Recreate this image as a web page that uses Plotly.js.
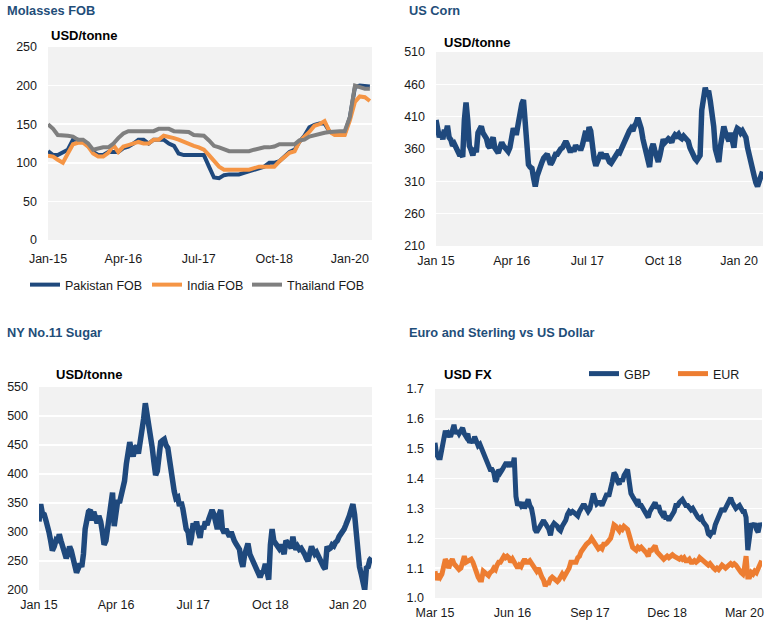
<!DOCTYPE html>
<html><head><meta charset="utf-8">
<script src="https://cdn.plot.ly/plotly-3.0.1.min.js"></script>
<style>html,body{margin:0;padding:0;background:#fff;}#chart{width:782px;height:634px;}</style>
</head><body><div id="chart"></div>
<script>
// ---------- Molasses FOB (monthly, Jan 2015 - May 2020), USD/tonne ----------
const molassesPakistan = [115,110,110,113,117,130,130,127,122,114,110,110,
  114,114,114,119,121,125,130,130,125,130,130,130,
  125,122,112,110,110,110,110,110,95,81,80,84,
  85,85,85,87,89,91,93,95,100,100,102,108,
  114,117,127,135,146,149,151,151,140,138,138,138,
  159,198,200,200,199];
const molassesIndia = [109,108,104,100,112,124,126,126,121,112,108,108,
  113,123,114,121,123,125,127,125,125,130,130,135,
  134,132,130,127,125,122,120,117,110,102,95,91,
  91,91,91,91,91,93,95,95,95,95,102,108,
  113,115,127,134,140,148,150,154,140,136,136,136,
  155,179,186,185,180];
const molassesThailand = [150,144,136,136,135,134,130,130,125,117,119,120,
  120,125,132,138,141,141,141,141,141,141,144,144,
  144,141,141,141,140,136,136,135,129,122,120,117,
  115,115,115,115,115,117,119,120,120,121,124,124,
  124,124,129,130,134,136,137,139,140,141,141,141,
  159,200,198,196,196];

// ---------- US Corn, USD/tonne (3 readings per month: 1st, 11th, 21st; Jan 2015 - May 2020) ----------
const cornValues = [
  405,388,378, 386,375,390, 383,396,378, 374,365,368, 362,356,352, 352,348,405, 432,405,365, 358,350,362, 355,385,393, 395,385,380, 376,365,362, 372,378,362,
  358,354,362, 370,365,362, 360,356,362, 375,392,385, 385,400,420, 430,436,400, 348,336,332, 330,315,302, 318,328,334, 340,346,350, 352,344,336, 340,346,352,
  352,358,360, 362,368,372, 368,360,355, 362,356,366, 360,364,358, 366,378,388, 372,394,388, 358,344,334, 342,350,354, 350,346,352, 345,340,338, 342,348,352,
  355,354,360, 366,375,380, 385,388,392, 388,396,400, 408,400,392, 375,365,352, 345,332,360, 368,358,345, 340,350,370, 375,370,372, 376,374,370, 378,382,380,
  383,378,376, 380,376,374, 372,362,355, 350,345,342, 345,350,420, 440,455,445, 450,435,418, 395,360,345, 340,365,390, 395,385,378, 372,385,370, 362,385,392,
  390,385,388, 384,378,362, 350,338,330, 318,308,302, 310,320,325];

// ---------- NY No.11 Sugar, USD/tonne (3 readings per month; Jan 2015 - May 2020) ----------
const sugarValues = [
  318,348,332, 330,320,312, 300,285,268, 275,285,282, 296,285,275, 268,255,262, 275,268,250, 242,230,235, 245,240,262, 305,325,335, 338,320,335, 325,315,328,
  318,300,278, 285,310,330, 340,368,310, 345,355,350, 365,380,388, 418,435,455, 440,430,445, 448,435,455, 462,495,522, 505,490,470, 445,420,398, 405,445,455,
  458,460,450, 445,425,400, 385,370,358, 360,345,352, 340,318,305, 300,278,290, 315,305,318, 300,290,310, 305,318,312, 322,332,338, 330,310,305, 330,338,305,
  298,305,300, 292,300,288, 285,280,275, 270,250,240, 260,272,280, 262,255,250, 245,235,228, 222,230,232, 245,230,218, 278,305,285, 280,275,272, 278,265,262,
  285,282,278, 272,292,275, 270,275,270, 272,268,262, 255,250,262, 275,268,262, 265,258,252, 248,240,236, 275,270,272, 278,276,282, 285,292,296, 298,305,312,
  318,328,338, 348,330,295, 262,240,228, 215,200,238, 240,252,256];

// ---------- Euro and Sterling vs US Dollar (3 readings per month; Mar 2015 - Jun 2020) ----------
const gbpValues = [
  1.52,1.48,1.47, 1.47,1.50,1.53, 1.56,1.54,1.55, 1.54,1.57,1.58, 1.55,1.56,1.55, 1.56,1.57,1.55, 1.54,1.55,1.52, 1.53,1.52,1.54, 1.52,1.51,1.515, 1.50,1.49,1.48,
  1.46,1.44,1.43, 1.43,1.42,1.39, 1.40,1.43,1.42, 1.43,1.44,1.45, 1.45,1.44,1.455, 1.44,1.47,1.34, 1.31,1.32,1.31, 1.32,1.30,1.32, 1.33,1.31,1.30, 1.27,1.23,1.22, 1.23,1.245,1.25, 1.26,1.25,1.24,
  1.23,1.21,1.24, 1.25,1.245,1.24, 1.23,1.225,1.24, 1.25,1.26,1.28, 1.29,1.285,1.29, 1.285,1.28,1.275, 1.29,1.30,1.31, 1.31,1.30,1.29, 1.30,1.335,1.35, 1.33,1.315,1.32, 1.32,1.31,1.325, 1.34,1.35,1.34,
  1.36,1.39,1.42, 1.41,1.39,1.38, 1.40,1.39,1.41, 1.42,1.43,1.39, 1.35,1.34,1.33, 1.32,1.33,1.31, 1.31,1.30,1.29, 1.28,1.27,1.29, 1.30,1.31,1.32, 1.30,1.31,1.29, 1.28,1.29,1.27, 1.27,1.26,1.27,
  1.28,1.29,1.31, 1.31,1.32,1.33, 1.33,1.32,1.31, 1.31,1.30,1.295, 1.30,1.29,1.275, 1.27,1.265,1.27, 1.255,1.245,1.24, 1.215,1.21,1.22, 1.22,1.245,1.26, 1.27,1.29,1.30, 1.29,1.30,1.31, 1.32,1.335,1.32,
  1.31,1.30,1.305, 1.31,1.30,1.29, 1.29,1.27,1.16, 1.23,1.25,1.24, 1.25,1.23,1.22, 1.25,1.24];
const eurValues = [
  1.09,1.06,1.08, 1.07,1.08,1.10, 1.13,1.12,1.10, 1.12,1.13,1.115, 1.11,1.10,1.095, 1.10,1.13,1.14, 1.12,1.125,1.13, 1.13,1.12,1.10, 1.08,1.07,1.06, 1.06,1.09,1.085,
  1.08,1.075,1.085, 1.09,1.10,1.095, 1.11,1.12,1.12, 1.13,1.14,1.135, 1.14,1.135,1.12, 1.13,1.12,1.11, 1.10,1.11,1.105, 1.12,1.13,1.12, 1.12,1.125,1.115, 1.11,1.10,1.09, 1.10,1.08,1.07, 1.06,1.04,1.05,
  1.05,1.065,1.07, 1.065,1.06,1.055, 1.06,1.07,1.08, 1.07,1.085,1.09, 1.10,1.12,1.12, 1.12,1.12,1.135, 1.14,1.155,1.165, 1.175,1.18,1.185, 1.19,1.20,1.19, 1.18,1.175,1.165, 1.17,1.165,1.18, 1.18,1.185,1.19,
  1.20,1.22,1.245, 1.24,1.23,1.225, 1.235,1.23,1.24, 1.235,1.23,1.21, 1.18,1.17,1.165, 1.16,1.17,1.165, 1.17,1.165,1.16, 1.15,1.14,1.16, 1.16,1.17,1.175, 1.155,1.15,1.14, 1.135,1.13,1.135, 1.14,1.135,1.14,
  1.145,1.14,1.135, 1.135,1.13,1.135, 1.13,1.135,1.125, 1.125,1.13,1.12, 1.12,1.125,1.12, 1.125,1.135,1.13, 1.125,1.12,1.115, 1.11,1.115,1.105, 1.10,1.095,1.10, 1.095,1.10,1.11, 1.105,1.10,1.105, 1.11,1.115,1.11,
  1.115,1.11,1.10, 1.095,1.085,1.08, 1.10,1.14,1.07, 1.07,1.085,1.08, 1.09,1.085,1.10, 1.12,1.125];

// ---------- tick labels ----------
const molassesTickDates = ['2015-01-01','2016-04-01','2017-07-01','2018-10-01','2020-01-01'];
const molassesTickText = ['Jan-15','Apr-16','Jul-17','Oct-18','Jan-20'];
const priceTickDates = ['2015-01-01','2016-04-01','2017-07-01','2018-10-01','2020-01-01'];
const priceTickText = ['Jan 15','Apr 16','Jul 17','Oct 18','Jan 20'];
const fxTickDates = ['2015-03-01','2016-06-01','2017-09-01','2018-12-01','2020-03-01'];
const fxTickText = ['Mar 15','Jun 16','Sep 17','Dec 18','Mar 20'];

// ---------- sampling calendars ----------
function monthlyDates(y, m, n) {
  const out = [];
  for (let k = 0; k < n; k++) {
    const mm = m - 1 + k, yy = y + Math.floor(mm / 12), mo = (mm % 12) + 1;
    out.push(yy + '-' + String(mo).padStart(2, '0') + '-01');
  }
  return out;
}
function thirdsDates(y, m, n) {
  const days = ['01', '11', '21'], out = [];
  for (let k = 0; k < n; k++) {
    const mm = m - 1 + Math.floor(k / 3), yy = y + Math.floor(mm / 12), mo = (mm % 12) + 1;
    out.push(yy + '-' + String(mo).padStart(2, '0') + '-' + days[k % 3]);
  }
  return out;
}

const BLUE = '#1F497D', ORANGE_M = '#F59545', GREY = '#7F7F7F', ORANGE_FX = '#ED7D31';
const FONT = 'Liberation Sans, Arial, sans-serif';
const W = 782, H = 634;
const px = v => v / W, py = v => 1 - v / H;

const molDates = monthlyDates(2015, 1, molassesPakistan.length);
const traces = [
  {x: molDates, y: molassesPakistan, name: 'Pakistan FOB', type: 'scatter', mode: 'lines', line: {color: BLUE, width: 4}, xaxis: 'x', yaxis: 'y', legend: 'legend'},
  {x: molDates, y: molassesIndia, name: 'India FOB', type: 'scatter', mode: 'lines', line: {color: ORANGE_M, width: 4}, xaxis: 'x', yaxis: 'y', legend: 'legend2'},
  {x: molDates, y: molassesThailand, name: 'Thailand FOB', type: 'scatter', mode: 'lines', line: {color: GREY, width: 4}, xaxis: 'x', yaxis: 'y', legend: 'legend3'},
  {x: thirdsDates(2015, 1, cornValues.length), y: cornValues, name: 'US Corn', type: 'scatter', mode: 'lines', line: {color: BLUE, width: 5.5}, xaxis: 'x2', yaxis: 'y2', showlegend: false},
  {x: thirdsDates(2015, 1, sugarValues.length), y: sugarValues, name: 'NY No.11 Sugar', type: 'scatter', mode: 'lines', line: {color: BLUE, width: 5.5}, xaxis: 'x3', yaxis: 'y3', showlegend: false},
  {x: thirdsDates(2015, 3, gbpValues.length), y: gbpValues, name: 'GBP', type: 'scatter', mode: 'lines', line: {color: BLUE, width: 5}, xaxis: 'x4', yaxis: 'y4', legend: 'legend4'},
  {x: thirdsDates(2015, 3, eurValues.length), y: eurValues, name: 'EUR', type: 'scatter', mode: 'lines', line: {color: ORANGE_FX, width: 5}, xaxis: 'x4', yaxis: 'y4', legend: 'legend5'}
];

const tickFont = {family: FONT, size: 12.5, color: '#1a1a1a'};
function xAx(d, range, vals, text, anchor, standoff) {
  return {domain: d, range: range, type: 'date', tickmode: 'array', tickvals: vals, ticktext: text,
    showgrid: false, zeroline: false, showline: false, ticks: '', tickfont: tickFont,
    ticklabelstandoff: standoff, anchor: anchor, fixedrange: true};
}
function yAx(d, range, dtick, anchor, fmt) {
  return {domain: d, range: range, dtick: dtick, tick0: range[0], tickmode: 'linear', anchor: anchor,
    showgrid: true, gridcolor: '#FFFFFF', gridwidth: 1.5, zeroline: false, showline: false, ticks: '',
    tickfont: tickFont, ticklabelstandoff: 10, tickformat: fmt || '', fixedrange: true};
}
function leg(x, y) {
  return {x: px(x), y: py(y), xanchor: 'left', yanchor: 'middle', orientation: 'h',
    font: {family: FONT, size: 12.5, color: '#1a1a1a'}, bgcolor: 'rgba(0,0,0,0)', borderwidth: 0};
}
function title(text, x, y) {
  return {text: '<b>' + text + '</b>', xref: 'paper', yref: 'paper', x: px(x), y: py(y), xanchor: 'left', yanchor: 'middle',
    showarrow: false, font: {family: FONT, size: 12.8, color: '#1F4E79'}};
}
function unit(text, x, y) {
  return {text: '<b>' + text + '</b>', xref: 'paper', yref: 'paper', x: px(x), y: py(y), xanchor: 'left', yanchor: 'middle',
    showarrow: false, font: {family: FONT, size: 13, color: '#000000'}};
}

const layout = {
  width: W, height: H, autosize: false,
  margin: {l: 0, r: 0, t: 0, b: 0, pad: 0},
  paper_bgcolor: '#FFFFFF', plot_bgcolor: '#F2F2F2',
  font: {family: FONT},
  xaxis: xAx([px(48), px(372)], ['2015-01-01', '2020-05-14'], molassesTickDates, molassesTickText, 'y', 9),
  yaxis: yAx([py(240), py(47)], [0, 250], 50, 'x'),
  xaxis2: xAx([px(436), px(763)], ['2015-01-01', '2020-05-24'], priceTickDates, priceTickText, 'y2', 5),
  yaxis2: yAx([py(246), py(52)], [210, 510], 50, 'x2'),
  xaxis3: xAx([px(39), px(372)], ['2015-01-01', '2020-05-24'], priceTickDates, priceTickText, 'y3', 5),
  yaxis3: yAx([py(590), py(387)], [200, 550], 50, 'x3'),
  xaxis4: xAx([px(435), px(762)], ['2015-03-01', '2020-06-13'], fxTickDates, fxTickText, 'y4', 5),
  yaxis4: yAx([py(598), py(389)], [1.0, 1.7], 0.1, 'x4', '.1f'),
  legend: leg(25, 285), legend2: leg(147, 285), legend3: leg(247, 285),
  legend4: leg(584, 374), legend5: leg(673, 374),
  annotations: [
    title('Molasses FOB', 5, 10), title('US Corn', 407, 10),
    title('NY No.11 Sugar', 5, 333), title('Euro and Sterling vs US Dollar', 407, 333),
    unit('USD/tonne', 49, 36), unit('USD/tonne', 442, 42), unit('USD/tonne', 54, 374), unit('USD FX', 442, 374)
  ]
};
Plotly.newPlot('chart', traces, layout, {displayModeBar: false, staticPlot: true});
</script>
</body></html>
